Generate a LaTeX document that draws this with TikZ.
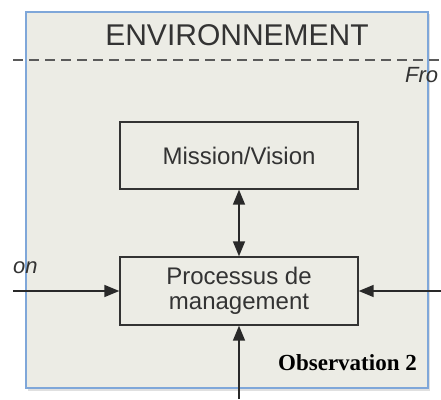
\documentclass[tikz,border=0pt]{standalone}
\usepackage{fontspec}
\setmainfont{Liberation Sans}
\newfontfamily\obsfont{Liberation Serif}
\usetikzlibrary{arrows.meta}
\definecolor{envfill}{HTML}{ECECE5}
\definecolor{envframe}{HTML}{7FA7D9}
\definecolor{txt}{HTML}{333333}
\definecolor{dashc}{HTML}{5A5A5A}
\tikzset{
  procbox/.style={draw=txt, line width=1.4pt, minimum width=238pt, inner sep=0pt, align=center, text=txt, font=\fontsize{24}{25}\selectfont},
  conn/.style={draw=txt!80!black, line width=1.6pt, -{Triangle[length=15pt,width=12pt]}},
  biconn/.style={draw=txt!80!black, line width=1.6pt, {Triangle[length=15pt,width=12pt]}-{Triangle[length=15pt,width=12pt]}},
  sidetext/.style={anchor=base west, inner sep=0pt, text=txt, font=\fontsize{22}{24}\selectfont\itshape}
}
\begin{document}
\begin{tikzpicture}[x=1pt,y=-1pt]
\useasboundingbox (0,0) rectangle (441,399);
\clip (0,0) rectangle (441,399);
% shadow and environment frame
\fill[black!12] (28,14) rectangle (430,391);
\draw[envframe, fill=envfill, line width=1.2pt] (26,12) rectangle (428,388);
\node[anchor=base, inner sep=0pt, text=txt, font=\fontsize{30}{32}\selectfont] (env) at (237,45) {ENVIRONNEMENT};
% dashed border line
\coordinate (dl) at (13,60);
\coordinate (dr) at (441,60);
\draw[dashc, line width=2.4pt, dash pattern=on 10pt off 6pt] (dl) -- (dr);
\node[sidetext] (fro) at (405,82) {Fro};
% boxes
\node[procbox, minimum height=67pt] (mission) at (239,155.5) {Mission/Vision};
\node[procbox, minimum height=68pt] (processus) at (239,291) {Processus de\\management};
% connectors
\draw[biconn] (mission.south) -- (processus.north);
\coordinate (lin) at (13,291);
\coordinate (rin) at (441,291);
\coordinate (bin) at (239,399);
\draw[conn] (lin) -- (processus.west);
\draw[conn] (rin) -- (processus.east);
\draw[conn] (bin) -- (processus.south);
\node[sidetext] (on) at (13,273) {on};
\node[anchor=base east, inner sep=0pt, font=\obsfont\bfseries\fontsize{23}{25}\selectfont] (obs) at (417,370) {Observation 2};
\end{tikzpicture}
\end{document}
